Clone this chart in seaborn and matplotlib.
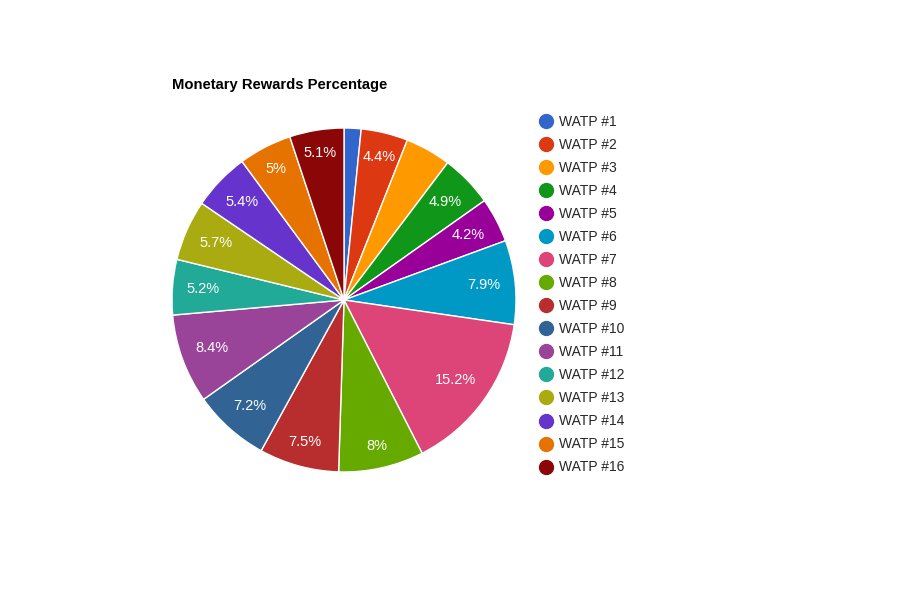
import matplotlib
matplotlib.use("Agg")
import matplotlib.pyplot as plt
from matplotlib.lines import Line2D
import numpy as np
import seaborn as sns

# data
names = ["WATP #1", "WATP #2", "WATP #3", "WATP #4", "WATP #5", "WATP #6",
         "WATP #7", "WATP #8", "WATP #9", "WATP #10", "WATP #11", "WATP #12",
         "WATP #13", "WATP #14", "WATP #15", "WATP #16"]
shares = [1.6, 4.4, 4.3, 4.9, 4.2, 7.9, 15.2, 8.0, 7.5, 7.2, 8.4, 5.2, 5.7, 5.4, 5.0, 5.1]
# slices that show no label in the original
hidden = ["WATP #1", "WATP #3"]
colors = ["#3366cc", "#dc3912", "#ff9900", "#109618", "#990099", "#0099c6",
          "#dd4477", "#66aa00", "#b82e2e", "#316395", "#994499", "#22aa99",
          "#aaaa11", "#6633cc", "#e67300", "#8b0707"]

sns.set_theme(style="white")
plt.rcParams['font.family'] = ['Liberation Sans', 'DejaVu Sans']
palette = sns.color_palette(colors)

fig = plt.figure(figsize=(9, 6), dpi=100)
ax = fig.add_axes([172 / 900, 128 / 600, 344 / 900, 344 / 600])

pct_labels = ["" if n in hidden else f"{v:g}%" for n, v in zip(names, shares)]
wedges, texts = ax.pie(shares, labels=pct_labels, colors=palette, startangle=90,
                       counterclock=False, labeldistance=0.8,
                       wedgeprops=dict(edgecolor="white", linewidth=1),
                       textprops=dict(color="white", fontsize=10.5))
ax.set_xlim(-1, 1)
ax.set_ylim(-1, 1)
ax.set_aspect("equal")

# push each label out so its box sits a fixed distance inside the rim (like google charts)
fig.canvas.draw()
renderer = fig.canvas.get_renderer()
px = ax.bbox.width / 2
for w, t in zip(wedges, texts):
    t.set_ha("center")
    t.set_va("center")
    if not t.get_text():
        continue
    bb = t.get_window_extent(renderer)
    mid = np.deg2rad((w.theta1 + w.theta2) / 2)
    reach = 0.92 * px - bb.width / 2 * abs(np.cos(mid)) - bb.height / 2 * abs(np.sin(mid))
    r = reach / px
    t.set_position((r * np.cos(mid), r * np.sin(mid)))

fig.text(172 / 900, 1 - 84.5 / 600, "Monetary Rewards Percentage", fontsize=10.6,
         fontweight="bold", ha="left", va="center", color="black")

# legend with round markers
handles = [Line2D([0], [0], marker="o", linestyle="", markersize=10,
                  markerfacecolor=c, markeredgecolor=c) for c in palette]
fig.legend(handles, names, loc="upper left", bbox_to_anchor=(538 / 900, 1 - 115 / 600),
           frameon=False, fontsize=10, handletextpad=0.3, labelspacing=0.65,
           borderpad=0, borderaxespad=0, handlelength=1.2)

fig.savefig("out.png", dpi=100)
